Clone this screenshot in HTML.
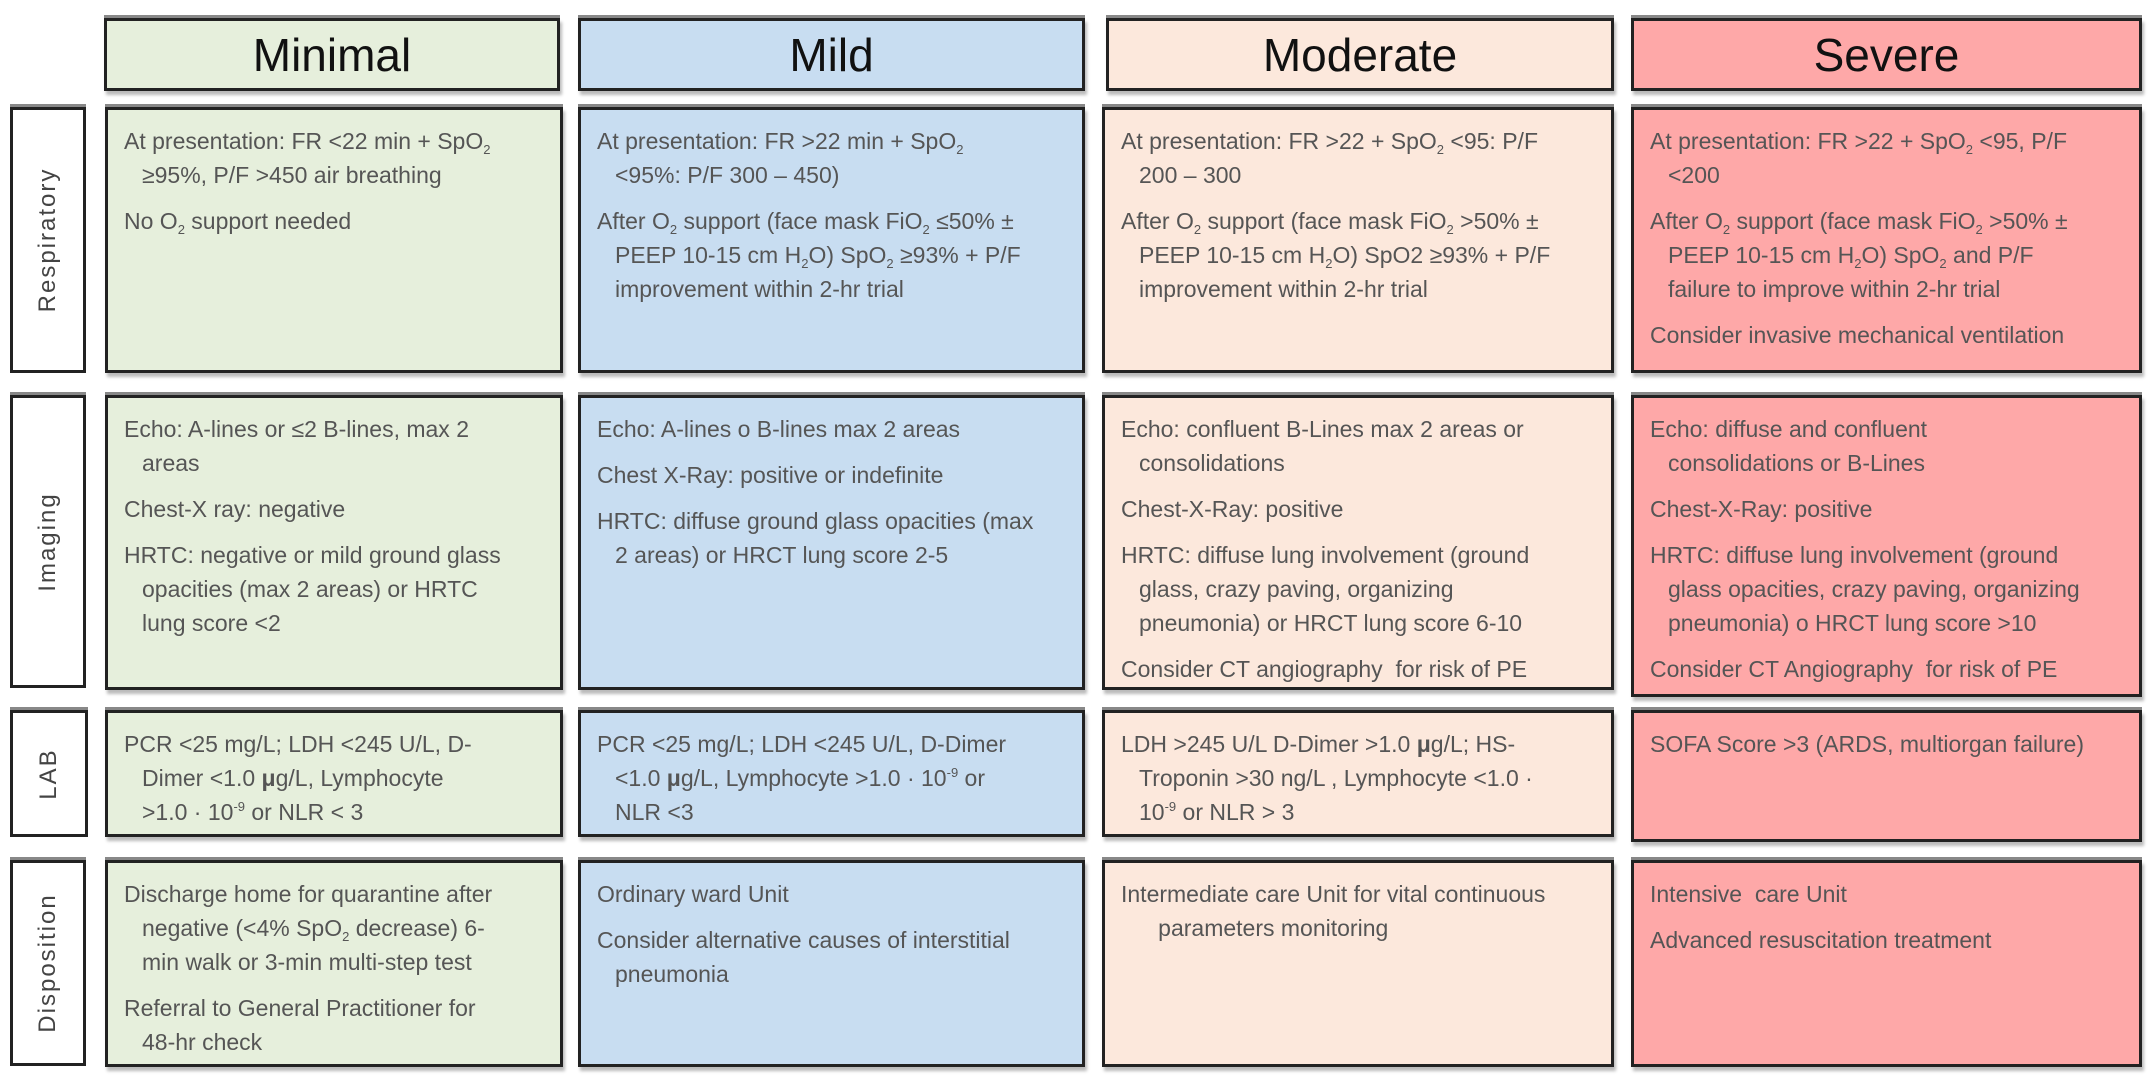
<!DOCTYPE html>
<html><head><meta charset="utf-8"><style>
*{margin:0;padding:0;box-sizing:border-box}
body{width:2154px;height:1087px;background:#fff;position:relative;overflow:hidden;font-family:"Liberation Sans Narrow","Liberation Sans",sans-serif}
.b{position:absolute;border:3px solid #222;box-shadow:0 -3px 0 #888, 2px 4px 3px #bbb}
.h{font-size:46px;color:#111;text-align:center;line-height:68px}
.g{background:#e6efdc}.bl{background:#c8ddf1}.p{background:#fce8dc}.r{background:#fea8a8}
.c{padding:14px 0 0 16px;color:#555;font-size:23px;line-height:34px;white-space:nowrap}
.c p{margin-bottom:12px;padding-left:18px;text-indent:-18px}
.c sub{font-size:13px;vertical-align:-5px;line-height:0}
.c sup{font-size:13px;vertical-align:9px;line-height:0}
.l{position:absolute;background:#fff;border:3px solid #222;box-shadow:0 -3px 0 #888}
.l span{position:absolute;left:50%;top:50%;transform:translate(-50%,-50%) rotate(-90deg);font-family:"Liberation Sans",sans-serif;font-size:24px;color:#444;letter-spacing:2px;white-space:nowrap}
</style></head><body>
<div class="b h g" style="left:104px;top:18px;width:456px;height:73px">Minimal</div>
<div class="b h bl" style="left:578px;top:18px;width:507px;height:73px">Mild</div>
<div class="b h p" style="left:1106px;top:18px;width:508px;height:73px">Moderate</div>
<div class="b h r" style="left:1631px;top:18px;width:511px;height:73px">Severe</div>

<div class="l" style="left:10px;top:107px;width:76px;height:266px"><span>Respiratory</span></div>
<div class="l" style="left:10px;top:395px;width:76px;height:293px"><span>Imaging</span></div>
<div class="l" style="left:10px;top:710px;width:78px;height:127px"><span>LAB</span></div>
<div class="l" style="left:10px;top:860px;width:76px;height:206px"><span>Disposition</span></div>

<!-- Respiratory -->
<div class="b c g" style="left:105px;top:107px;width:458px;height:266px">
<p>At presentation: FR &lt;22 min + SpO<sub>2</sub><br>≥95%, P/F &gt;450 air breathing</p>
<p>No O<sub>2</sub> support needed</p></div>
<div class="b c bl" style="left:578px;top:107px;width:507px;height:266px">
<p>At presentation: FR &gt;22 min + SpO<sub>2</sub><br>&lt;95%: P/F 300 – 450)</p>
<p>After O<sub>2</sub> support (face mask FiO<sub>2</sub> ≤50% ±<br>PEEP 10-15 cm H<sub>2</sub>O) SpO<sub>2</sub> ≥93% + P/F<br>improvement within 2-hr trial</p></div>
<div class="b c p" style="left:1102px;top:107px;width:512px;height:266px">
<p>At presentation: FR &gt;22 + SpO<sub>2</sub> &lt;95: P/F<br>200 – 300</p>
<p>After O<sub>2</sub> support (face mask FiO<sub>2</sub> &gt;50% ±<br>PEEP 10-15 cm H<sub>2</sub>O) SpO2 ≥93% + P/F<br>improvement within 2-hr trial</p></div>
<div class="b c r" style="left:1631px;top:107px;width:511px;height:266px">
<p>At presentation: FR &gt;22 + SpO<sub>2</sub> &lt;95, P/F<br>&lt;200</p>
<p>After O<sub>2</sub> support (face mask FiO<sub>2</sub> &gt;50% ±<br>PEEP 10-15 cm H<sub>2</sub>O) SpO<sub>2</sub> and P/F<br>failure to improve within 2-hr trial</p>
<p>Consider invasive mechanical ventilation</p></div>

<!-- Imaging -->
<div class="b c g" style="left:105px;top:395px;width:458px;height:295px">
<p>Echo: A-lines or ≤2 B-lines, max 2<br>areas</p>
<p>Chest-X ray: negative</p>
<p>HRTC: negative or mild ground glass<br>opacities (max 2 areas) or HRTC<br>lung score &lt;2</p></div>
<div class="b c bl" style="left:578px;top:395px;width:507px;height:295px">
<p>Echo: A-lines o B-lines max 2 areas</p>
<p>Chest X-Ray: positive or indefinite</p>
<p>HRTC: diffuse ground glass opacities (max<br>2 areas) or HRCT lung score 2-5</p></div>
<div class="b c p" style="left:1102px;top:395px;width:512px;height:295px">
<p>Echo: confluent B-Lines max 2 areas or<br>consolidations</p>
<p>Chest-X-Ray: positive</p>
<p>HRTC: diffuse lung involvement (ground<br>glass, crazy paving, organizing<br>pneumonia) or HRCT lung score 6-10</p>
<p>Consider CT angiography &nbsp;for risk of PE</p></div>
<div class="b c r" style="left:1631px;top:395px;width:511px;height:302px">
<p>Echo: diffuse and confluent<br>consolidations or B-Lines</p>
<p>Chest-X-Ray: positive</p>
<p>HRTC: diffuse lung involvement (ground<br>glass opacities, crazy paving, organizing<br>pneumonia) o HRCT lung score &gt;10</p>
<p>Consider CT Angiography &nbsp;for risk of PE</p></div>

<!-- LAB -->
<div class="b c g" style="left:105px;top:710px;width:458px;height:127px">
<p>PCR &lt;25 mg/L; LDH &lt;245 U/L, D-<br>Dimer &lt;1.0 <b>μ</b>g/L, Lymphocyte<br>&gt;1.0 · 10<sup>-9</sup> or NLR &lt; 3</p></div>
<div class="b c bl" style="left:578px;top:710px;width:507px;height:127px">
<p>PCR &lt;25 mg/L; LDH &lt;245 U/L, D-Dimer<br>&lt;1.0 <b>μ</b>g/L, Lymphocyte &gt;1.0 · 10<sup>-9</sup> or<br>NLR &lt;3</p></div>
<div class="b c p" style="left:1102px;top:710px;width:512px;height:127px">
<p>LDH &gt;245 U/L D-Dimer &gt;1.0 <b>μ</b>g/L; HS-<br>Troponin &gt;30 ng/L , Lymphocyte &lt;1.0 ·<br>10<sup>-9</sup> or NLR &gt; 3</p></div>
<div class="b c r" style="left:1631px;top:710px;width:511px;height:132px">
<p>SOFA Score &gt;3 (ARDS, multiorgan failure)</p></div>

<!-- Disposition -->
<div class="b c g" style="left:105px;top:860px;width:458px;height:207px">
<p>Discharge home for quarantine after<br>negative (&lt;4% SpO<sub>2</sub> decrease) 6-<br>min walk or 3-min multi-step test</p>
<p>Referral to General Practitioner for<br>48-hr check</p></div>
<div class="b c bl" style="left:578px;top:860px;width:507px;height:207px">
<p>Ordinary ward Unit</p>
<p>Consider alternative causes of interstitial<br>pneumonia</p></div>
<div class="b c p" style="left:1102px;top:860px;width:512px;height:207px">
<p>Intermediate care Unit for vital continuous<br>&nbsp;&nbsp;&nbsp;parameters monitoring</p></div>
<div class="b c r" style="left:1631px;top:860px;width:511px;height:207px">
<p>Intensive &nbsp;care Unit</p>
<p style="margin-top:4px">Advanced resuscitation treatment</p></div>
</body></html>
